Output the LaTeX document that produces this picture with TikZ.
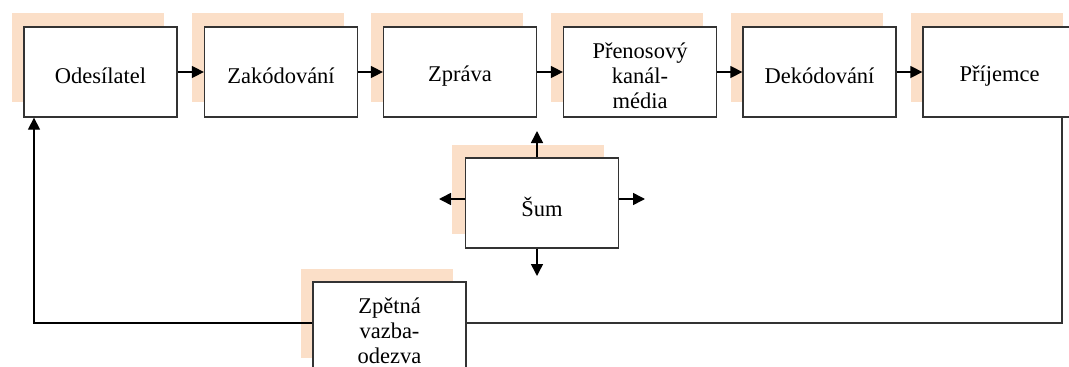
\documentclass[tikz,border=0pt]{standalone}
\usepackage{fontspec}
\setmainfont{Liberation Serif}
\usetikzlibrary{arrows.meta}
\definecolor{peach}{HTML}{FBDFC8}
\definecolor{edge}{HTML}{333333}
\tikzset{
  box/.style={draw=edge, line width=1.3pt, fill=white, minimum width=153pt, minimum height=90pt,
    inner sep=2pt},
  lbl/.style={align=center, font=\fontsize{22.5}{25}\selectfont, text=black, yshift=-4pt, inner sep=0pt},
  shade/.style={fill=peach, draw=none, minimum width=152pt, minimum height=89pt, inner sep=0pt},
  arr/.style={line width=1.5pt, -{Triangle[length=12pt,width=12pt]}},
  link/.style={draw=edge, line width=1.3pt},
}
\begin{document}
\begin{tikzpicture}[x=1pt,y=-1pt]
\useasboundingbox (0,0) rectangle (1069,367);
% shadows
\node[shade] (s1) at (87.5,57.5) {};
\node[shade] (s2) at (268,57.5) {};
\node[shade] (s3) at (447,57.5) {};
\node[shade] (s4) at (627,57.5) {};
\node[shade] (s5) at (806.5,57.5) {};
\node[shade] (s6) at (986.5,57.5) {};
\node[shade] (ss) at (528,189) {};
\node[shade] (sf) at (376.5,313) {};
% boxes
\node[box, label={[lbl]center:Odesílatel}] (b1) at (100.5,72) {};
\node[box, label={[lbl]center:Zakódování}] (b2) at (281,72) {};
\node[box, label={[lbl]center:Zpráva}] (b3) at (460,72) {};
\node[box, label={[lbl]center:{Přenosový\\kanál-\\média}}] (b4) at (640,72) {};
\node[box, label={[lbl]center:Dekódování}] (b5) at (819.5,72) {};
\node[box, label={[lbl]center:Příjemce}] (b6) at (999.5,72) {};
\node[box, label={[lbl]center:Šum}] (sum) at (542,203) {};
\node[box, label={[lbl]center:{Zpětná\\vazba-\\odezva}}] (fb) at (389.5,327) {};
% chain arrows
\draw[arr] (b1) -- (b2);
\draw[arr] (b2) -- (b3);
\draw[arr] (b3) -- (b4);
\draw[arr] (b4) -- (b5);
\draw[arr] (b5) -- (b6);
% noise arrows
\coordinate (nu) at (537,131);
\coordinate (nd) at (537,276);
\coordinate (nl) at (439,199);
\coordinate (nr) at (645,199);
\draw[arr] (sum.north -| nu) -- (nu);
\draw[arr] (sum.south -| nd) -- (nd);
\draw[arr] (sum.west |- nl) -- (nl);
\draw[arr] (sum.east |- nr) -- (nr);
% feedback loop
\coordinate (fbR) at (1062,323);
\coordinate (fbL) at (34,323);
\draw[link] (b6.south -| fbR) -- (fbR) -- (fb.east |- fbR);
\draw[arr, line width=1.3pt] (fb.west |- fbL) -- (fbL) -- (b1.south -| fbL);
\end{tikzpicture}
\end{document}
